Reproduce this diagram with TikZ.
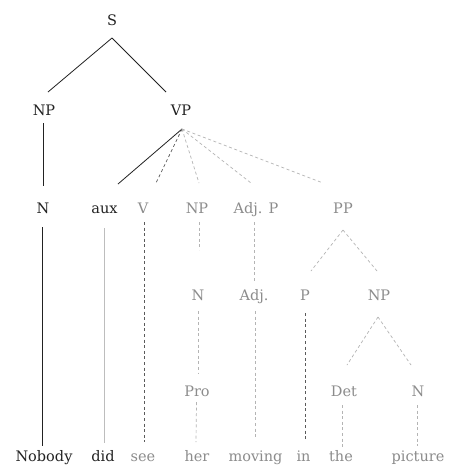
\documentclass[tikz,border=0pt]{standalone}
\usepackage{fontspec}
\setmainfont{DejaVu Serif}
\usetikzlibrary{calc}
\definecolor{ink}{HTML}{222222}
\definecolor{soft}{HTML}{8C8C8C}
\definecolor{dashdark}{HTML}{5A5A5A}
\definecolor{dashlight}{HTML}{B4B4B4}
\definecolor{solidlight}{HTML}{BDBDBD}
\begin{document}
\begin{tikzpicture}[x=1pt,y=-1pt,
  lab/.style={anchor=base,inner sep=0pt,font=\fontsize{14.5}{17}\selectfont},
  hard/.style={lab,text=ink},
  faint/.style={lab,text=soft},
  branch/.style={draw=ink,line width=0.8pt},
  paleline/.style={draw=solidlight,line width=1pt},
  dashdk/.style={draw=dashdark,line width=0.7pt,dash pattern=on 3pt off 2.6pt},
  dashlt/.style={draw=dashlight,line width=0.7pt,dash pattern=on 3pt off 2.6pt}]
\useasboundingbox[fill=white] (0,0) rectangle (448,466);

% labels, placed by baseline
\node[hard]  (S)    at (112,25)  {S};
\node[hard]  (NPa)  at (44,115)  {NP};
\node[hard]  (VP)   at (181,115) {VP};

\node[hard]  (Na)   at (43,213)  {N};
\node[hard]  (aux)  at (104.5,213) {aux};
\node[faint] (V)    at (143,213) {V};
\node[faint] (NPb)  at (197,213) {NP};
\node[faint] (AdjP) at (256,213) {Adj. P};
\node[faint] (PP)   at (343,213) {PP};

\node[faint] (Nb)   at (198,300) {N};
\node[faint] (Adj)  at (254,300) {Adj.};
\node[faint] (P)    at (305,300) {P};
\node[faint] (NPc)  at (379,300) {NP};

\node[faint] (Pro)  at (197,396) {Pro};
\node[faint] (Det)  at (344,396) {Det};
\node[faint] (Nc)   at (418,396) {N};

\node[hard]  (w1) at (44,461)  {Nobody};
\node[hard]  (w2) at (103,461) {did};
\node[faint] (w3) at (143,461) {see};
\node[faint] (w4) at (197,461) {her};
\node[faint] (w5) at (255.5,461) {moving};
\node[faint] (w6) at (303.5,461) {in};
\node[faint] (w7) at (341,461) {the};
\node[faint] (w8) at (418,461) {picture};

% S and its daughters
\draw[branch] ($(S.base)+(0,13)$) -- ($(NPa.base)+(4,-23)$);
\draw[branch] ($(S.base)+(0,13)$) -- ($(VP.base)+(-15,-23)$);
\draw[branch] ($(NPa.base)+(-0.7,8)$) -- ($(Na.base)+(0.3,-27)$);
\draw[branch] ($(Na.base)+(-1,14)$) -- ($(w1.base)+(-2,-15)$);

% VP and its daughters
\draw[branch] ($(VP.base)+(1,14)$) -- ($(aux.base)+(13.5,-29)$);
\draw[dashdk] ($(VP.base)+(1,14)$) -- ($(V.base)+(13,-30)$);
\draw[dashlt] ($(VP.base)+(1,14)$) -- ($(NPb.base)+(2,-30)$);
\draw[dashlt] ($(VP.base)+(1,14)$) -- ($(AdjP.base)+(-5,-30)$);
\draw[dashlt] ($(VP.base)+(1,14)$) -- ($(PP.base)+(-20,-30)$);

\draw[paleline] ($(aux.base)+(-0.2,15)$) -- ($(w2.base)+(1.3,-18)$);
\draw[dashdk] ($(V.base)+(1,9)$) -- ($(w3.base)+(1,-19)$);
\draw[dashlt] ($(NPb.base)+(2.3,9)$) -- ($(Nb.base)+(1.3,-50)$);
\draw[dashlt] ($(AdjP.base)+(-2,9)$) -- ($(Adj.base)+(0,-19)$);

% PP
\draw[dashlt] ($(PP.base)+(0,17)$) -- ($(P.base)+(6,-29)$);
\draw[dashlt] ($(PP.base)+(0,17)$) -- ($(NPc.base)+(-2,-29)$);
\draw[dashdk] ($(P.base)+(0,13)$) -- ($(w6.base)+(1.5,-21)$);
\draw[dashlt] ($(NPc.base)+(-1,17)$) -- ($(Det.base)+(3,-31)$);
\draw[dashlt] ($(NPc.base)+(-1,17)$) -- ($(Nc.base)+(-7,-31)$);
\draw[dashlt] ($(Det.base)+(-1.5,9)$) -- ($(w7.base)+(1.5,-13)$);
\draw[dashlt] ($(Nc.base)+(-1,9)$) -- ($(w8.base)+(-1,-15)$);

% remaining single-daughter chains
\draw[dashlt] ($(Nb.base)+(0,11)$) -- ($(Pro.base)+(1,-22)$);
\draw[dashlt] ($(Pro.base)+(-0.5,6)$) -- ($(w4.base)+(-1,-19)$);
\draw[dashlt] ($(Adj.base)+(1,11)$) -- ($(w5.base)+(-0.5,-23)$);
\end{tikzpicture}
\end{document}
